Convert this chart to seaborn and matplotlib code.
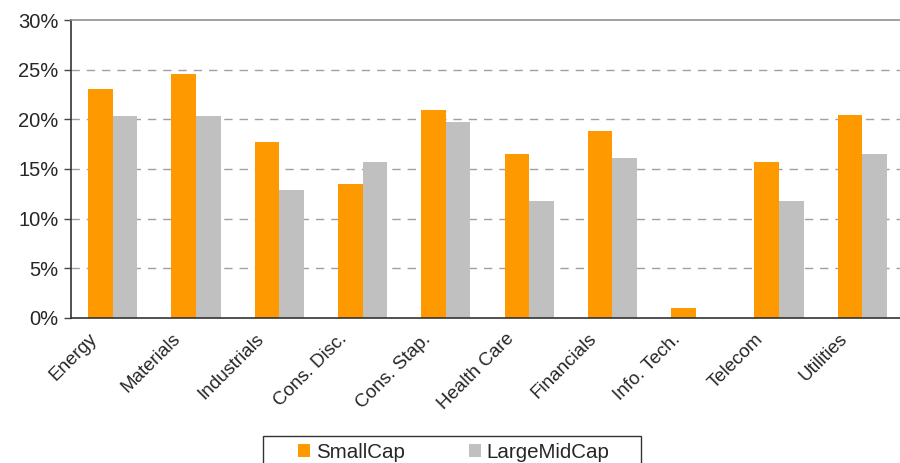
import numpy as np
import pandas as pd
import matplotlib
matplotlib.use('Agg')
import matplotlib.pyplot as plt
import matplotlib.transforms as mtransforms
from matplotlib.patches import Patch, Rectangle
import seaborn as sns
from matplotlib.ticker import PercentFormatter, MultipleLocator

sectors = ['Energy', 'Materials', 'Industrials', 'Cons. Disc.', 'Cons. Stap.',
           'Health Care', 'Financials', 'Info. Tech.', 'Telecom', 'Utilities']
small_cap = [23.1, 24.6, 17.7, 13.5, 20.9, 16.5, 18.8, 1.0, 15.7, 20.4]
large_mid_cap = [20.3, 20.3, 12.9, 15.7, 19.7, 11.8, 16.1, 0.0, 11.8, 16.5]
series = ['SmallCap', 'LargeMidCap']
colors = ['#FF9900', '#C0C0C0']

df = pd.DataFrame({
    'Sector': sectors * 2,
    'Series': [series[0]] * len(sectors) + [series[1]] * len(sectors),
    'Value': small_cap + large_mid_cap,
})

sns.set_style('white')
plt.rcParams['font.family'] = ['Liberation Sans', 'DejaVu Sans']

fig = plt.figure(figsize=(9, 4.63), dpi=100)
ax = fig.add_axes([0.0789, 0.3132, 0.9255, 0.6436])

sns.barplot(data=df, x='Sector', y='Value', hue='Series', order=sectors,
            hue_order=series, palette=colors, width=0.59, gap=0,
            saturation=1, linewidth=0, ax=ax, legend=False)

ax.set_ylim(0, 30)
ax.set_xlim(-0.5, len(sectors) - 0.5)
ax.yaxis.set_major_locator(MultipleLocator(5))
ax.yaxis.set_major_formatter(PercentFormatter(decimals=0))
ax.set_xlabel('')
ax.set_ylabel('')

for y in range(5, 30, 5):
    ax.axhline(y, color='#A0A0A0', linestyle=(0, (6, 5)), linewidth=1, zorder=0)
ax.set_axisbelow(True)

ax.set_xticks(range(len(sectors)))
ax.set_xticklabels(sectors, rotation=45, ha='right', rotation_mode='anchor')
ax.set_xticks(np.arange(-0.5, len(sectors), 1), minor=True)
ax.tick_params(axis='x', which='major', length=0, pad=9, labelsize=13.5)
ax.tick_params(axis='x', which='minor', length=5, width=1, color='#444444', direction='out')
ax.tick_params(axis='y', length=5, width=1, color='#444444', direction='out',
               labelsize=14.5, pad=4, left=True)
shift = mtransforms.ScaledTranslation(-24 / 100, 0, fig.dpi_scale_trans)
for lab in ax.get_xticklabels():
    lab.set_transform(lab.get_transform() + shift)

for s in ['left', 'bottom']:
    ax.spines[s].set_color('#333333')
    ax.spines[s].set_linewidth(1.2)
ax.spines['top'].set_color('#909090')
ax.spines['top'].set_linewidth(1.2)
ax.spines['right'].set_visible(False)

# legend box runs off the bottom edge
fig.patches.append(Rectangle((263 / 900, -0.05), (641 - 263) / 900, 0.05 + 27 / 463,
                             transform=fig.transFigure, facecolor='white',
                             edgecolor='#333333', linewidth=1))
handles = [Patch(facecolor=c, edgecolor='none') for c in colors]
fig.legend(handles, series, loc='center left', bbox_to_anchor=(298 / 900, 1 - 452 / 463),
           bbox_transform=fig.transFigure, ncol=2, frameon=False,
           fontsize=14.8, handlelength=0.58, handleheight=0.58, handletextpad=0.3,
           columnspacing=3.1, borderpad=0, borderaxespad=0)

fig.savefig('out.png', dpi=100)
